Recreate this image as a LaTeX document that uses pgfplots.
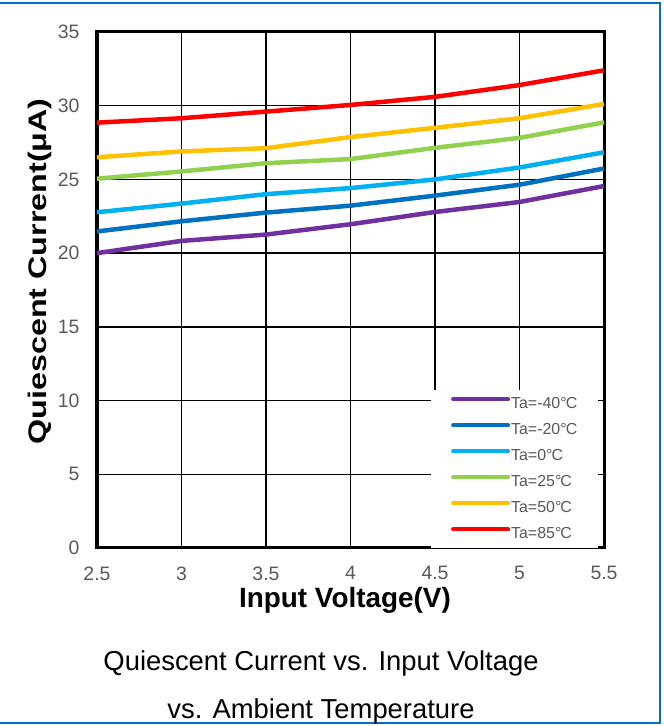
\documentclass[border=0pt]{standalone}
\usepackage{fontspec}
\setmainfont{Liberation Sans}
\usepackage{graphicx}
\usepackage{pgfplots}
\pgfplotsset{compat=1.18}

\definecolor{cPurple}{RGB}{112,48,160}
\definecolor{cDarkBlue}{RGB}{0,112,192}
\definecolor{cLightBlue}{RGB}{0,176,240}
\definecolor{cGreen}{RGB}{146,208,80}
\definecolor{cYellow}{RGB}{255,192,0}
\definecolor{cRed}{RGB}{255,0,0}
\definecolor{tickgray}{RGB}{89,89,89}
\definecolor{frameblue}{RGB}{0,112,192}

\newcommand{\degC}{°\kern-0.06em C}

\begin{document}
\begin{tikzpicture}
\path[use as bounding box] (0bp,0bp) rectangle (664bp,726bp);
\draw[frameblue, line width=2bp] (0bp,723bp) -- (660bp,723bp) -- (660bp,3bp) -- (0bp,3bp);

\begin{axis}[
    at={(97bp,178bp)}, anchor=south west,
    scale only axis,
    width=507bp, height=516bp,
    xmin=2.5, xmax=5.5,
    ymin=0, ymax=35,
    xtick={2.5,3,3.5,4,4.5,5,5.5},
    ytick={0,5,10,15,20,25,30,35},
    grid=major,
    major grid style={black, line width=1.5bp},
    axis line style={black, line width=3bp},
    tick style={black, line width=1.2bp},
    tick align=inside,
    major tick length=5bp,
    /pgf/number format/assume math mode=true,
    ticklabel style={font=\fontsize{19.5}{22}\selectfont, text=tickgray},
    xticklabel style={yshift=-15bp},
    yticklabel style={xshift=-14bp},
    xlabel={Input Voltage(V)},
    ylabel={\scalebox{1.08}[0.85]{Quiescent Current(μA)}},
    xlabel style={font=\bfseries\fontsize{28}{30}\selectfont,
        at={(axis description cs:0.489,-0.1008)}, anchor=center},
    ylabel style={font=\bfseries\fontsize{30}{32}\selectfont,
        at={(axis description cs:-0.112,0.536)}, anchor=center},
    legend cell align=left,
    legend image code/.code={\draw[#1, line cap=round, line width=4bp] (0bp,5bp) -- (55bp,5bp);},
    legend style={at={(axis cs:4.476,10.72)}, anchor=north west, draw=none, fill=white,
        font=\fontsize{16}{18}\selectfont, text=tickgray,
        inner xsep=20bp, inner ysep=5bp,
        nodes={inner sep=1bp, text height=12bp, text depth=4bp},
        row sep=8bp},
    every axis plot/.append style={line width=4.5bp, line join=round},
    clip=false,
]
\addplot[cPurple] coordinates {(2.5,20.0) (3,20.83) (3.5,21.26) (4,21.96) (4.5,22.79) (5,23.47) (5.5,24.55)};
\addlegendentry{Ta=-40\degC}
\addplot[cDarkBlue] coordinates {(2.5,21.47) (3,22.16) (3.5,22.75) (4,23.22) (4.5,23.9) (5,24.64) (5.5,25.74)};
\addlegendentry{Ta=-20\degC}
\addplot[cLightBlue] coordinates {(2.5,22.77) (3,23.36) (3.5,24.0) (4,24.41) (4.5,25.0) (5,25.81) (5.5,26.84)};
\addlegendentry{Ta=0\degC}
\addplot[cGreen] coordinates {(2.5,25.05) (3,25.54) (3.5,26.1) (4,26.38) (4.5,27.14) (5,27.82) (5.5,28.87)};
\addlegendentry{Ta=25\degC}
\addplot[cYellow] coordinates {(2.5,26.5) (3,26.9) (3.5,27.12) (4,27.87) (4.5,28.5) (5,29.15) (5.5,30.12)};
\addlegendentry{Ta=50\degC}
\addplot[cRed] coordinates {(2.5,28.85) (3,29.15) (3.5,29.6) (4,30.05) (4.5,30.6) (5,31.4) (5.5,32.4)};
\addlegendentry{Ta=85\degC}
\end{axis}

\node[font=\fontsize{27.5}{30}\selectfont, anchor=base] at (321bp,55bp) {Quiescent Current vs. Input Voltage};
\node[font=\fontsize{27.5}{30}\selectfont, anchor=base] at (321bp,8bp) {vs. Ambient Temperature};
\end{tikzpicture}
\end{document}
